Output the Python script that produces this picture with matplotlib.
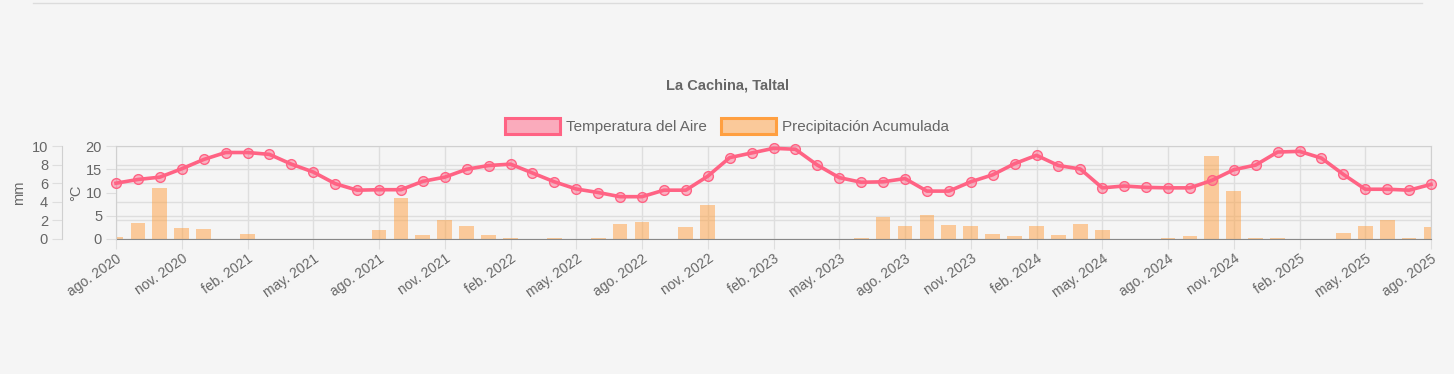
import matplotlib
matplotlib.use("Agg")
import matplotlib.pyplot as plt
from matplotlib.ticker import FixedLocator
from matplotlib.patches import Patch
import numpy as np

plt.rcParams["font.family"] = ["Liberation Sans", "DejaVu Sans"]

# monthly series, ago. 2020 -> ago. 2025
meses = ["ene.", "feb.", "mar.", "abr.", "may.", "jun.", "jul.", "ago.", "sep.", "oct.", "nov.", "dic."]
inicio_mes = 7   # ago.
inicio_anio = 2020

temperatura = [
    12.0, 12.8, 13.3, 15.1, 17.1, 18.6, 18.6, 18.2, 16.1, 14.4, 11.9, 10.5,
    10.6, 10.6, 12.4, 13.3, 15.0, 15.8, 16.1, 14.2, 12.3, 10.75, 10.0, 9.1,
    9.1, 10.5, 10.5, 13.5, 17.5, 18.5, 19.5, 19.3, 15.9, 13.2, 12.2, 12.3,
    13.0, 10.3, 10.3, 12.3, 13.8, 16.2, 18.0, 15.8, 15.05, 11.0, 11.4, 11.1,
    11.0, 11.0, 12.6, 14.9, 15.9, 18.7, 18.85, 17.4, 13.9, 10.7, 10.7, 10.5,
    11.75,
]
precipitacion = [
    0.25, 1.7, 5.5, 1.15, 1.1, 0.0, 0.55, 0.0, 0.0, 0.0, 0.0, 0.0,
    0.97, 4.45, 0.45, 2.0, 1.45, 0.43, 0.15, 0.0, 0.15, 0.0, 0.07, 1.6,
    1.83, 0.0, 1.25, 3.65, 0.0, 0.0, 0.0, 0.0, 0.0, 0.0, 0.15, 2.37,
    1.43, 2.55, 1.55, 1.43, 0.54, 0.32, 1.43, 0.43, 1.65, 0.97, 0.0, 0.0,
    0.07, 0.32, 8.9, 5.2, 0.07, 0.14, 0.0, 0.0, 0.65, 1.36, 2.0, 0.14,
    1.25,
]

etiquetas = []
for i in range(len(temperatura)):
    m = (inicio_mes + i) % 12
    a = inicio_anio + (inicio_mes + i) // 12
    etiquetas.append(f"{meses[m]} {a}")

BG = "#f5f5f5"
TXT = "#666666"
GRID = "#dedede"
ROSA = "#ff6384"
NARANJA = "#ff9f40"

W, H = 1454, 374
fig = plt.figure(figsize=(W / 100, H / 100), dpi=100, facecolor=BG)

x0, x1, ytop, ybot = 116, 1431, 146, 239
ax = fig.add_axes([x0 / W, 1 - ybot / H, (x1 - x0) / W, (ybot - ytop) / H])
ax.set_facecolor(BG)
ax_t = ax.twinx()
ax_t.patch.set_visible(False)

x = np.arange(len(temperatura))

# precipitation bars on the mm axis (drawn first, below the line)
ax.bar(x, precipitacion, width=0.67, color=NARANJA, alpha=0.5, linewidth=0, zorder=2)
ax.set_ylim(0, 10)
ax.set_xlim(0, len(x) - 1)
ax.set_yticks([0, 2, 4, 6, 8, 10])
ax.yaxis.set_minor_locator(FixedLocator([2.5, 7.5]))
ax.grid(axis="y", which="both", color=GRID, linewidth=1, zorder=0)
ax.grid(axis="x", color=GRID, linewidth=1, zorder=0)
ax.tick_params(axis="y", which="minor", length=0)
ax.tick_params(axis="y", colors=GRID, labelcolor=TXT, labelsize=10.5, length=7, pad=3)
ax.spines["left"].set_position(("outward", 54 * 72 / 100))
ax.spines["left"].set_color("#d0d0d0")
ax.spines["top"].set_color("#d0d0d0")
ax.spines["right"].set_color("#d0d0d0")
ax.spines["bottom"].set_color("#888888")
ax.set_ylabel("mm", color=TXT, fontsize=10.5, labelpad=4)

ticks_x = x[::3]
ax.set_xticks(ticks_x)
ax.set_xticklabels([etiquetas[i] for i in ticks_x], rotation=35, ha="right",
                   rotation_mode="anchor", color=TXT, fontsize=10)
ax.tick_params(axis="x", colors=GRID, labelcolor=TXT, length=7, pad=2)

# temperature line on the °C axis
ax_t.plot(x, temperatura, color=ROSA, linewidth=2.6, marker="o", markersize=7,
          markerfacecolor=(1, 0.39, 0.52, 0.45), markeredgecolor=ROSA,
          markeredgewidth=1.0, zorder=3, clip_on=False)
ax_t.set_ylim(0, 20)
ax_t.set_yticks([0, 5, 10, 15, 20])
ax_t.yaxis.tick_left()
ax_t.yaxis.set_label_position("left")
ax_t.tick_params(axis="y", colors=GRID, labelcolor=TXT, labelsize=10.5, length=7, pad=3)
for s in ["top", "right", "bottom"]:
    ax_t.spines[s].set_visible(False)
ax_t.spines["left"].set_color("#d0d0d0")
ax_t.set_ylabel("°C", color=TXT, fontsize=10.5, labelpad=2)

fig.text(0.5, 1 - 85 / H, "La Cachina, Taltal", ha="center", va="center",
         fontsize=10.5, fontweight="bold", color=TXT)

handles = [
    Patch(facecolor=(1, 0.39, 0.52, 0.5), edgecolor=ROSA, linewidth=2.2, label="Temperatura del Aire"),
    Patch(facecolor=(1, 0.62, 0.25, 0.5), edgecolor=NARANJA, linewidth=2.2, label="Precipitación Acumulada"),
]
fig.legend(handles=handles, loc="center", bbox_to_anchor=(0.5, 1 - 126 / H), ncol=2,
           frameon=False, handlelength=3.6, handleheight=1.2,
           handletextpad=0.4, columnspacing=0.9, labelcolor=TXT,
           prop={"size": 11})

fig.add_artist(plt.Line2D([33 / W, 1422 / W], [1 - 3 / H, 1 - 3 / H], color="#dcdcdc", linewidth=1))

fig.savefig("out.png", dpi=100, facecolor=BG)
